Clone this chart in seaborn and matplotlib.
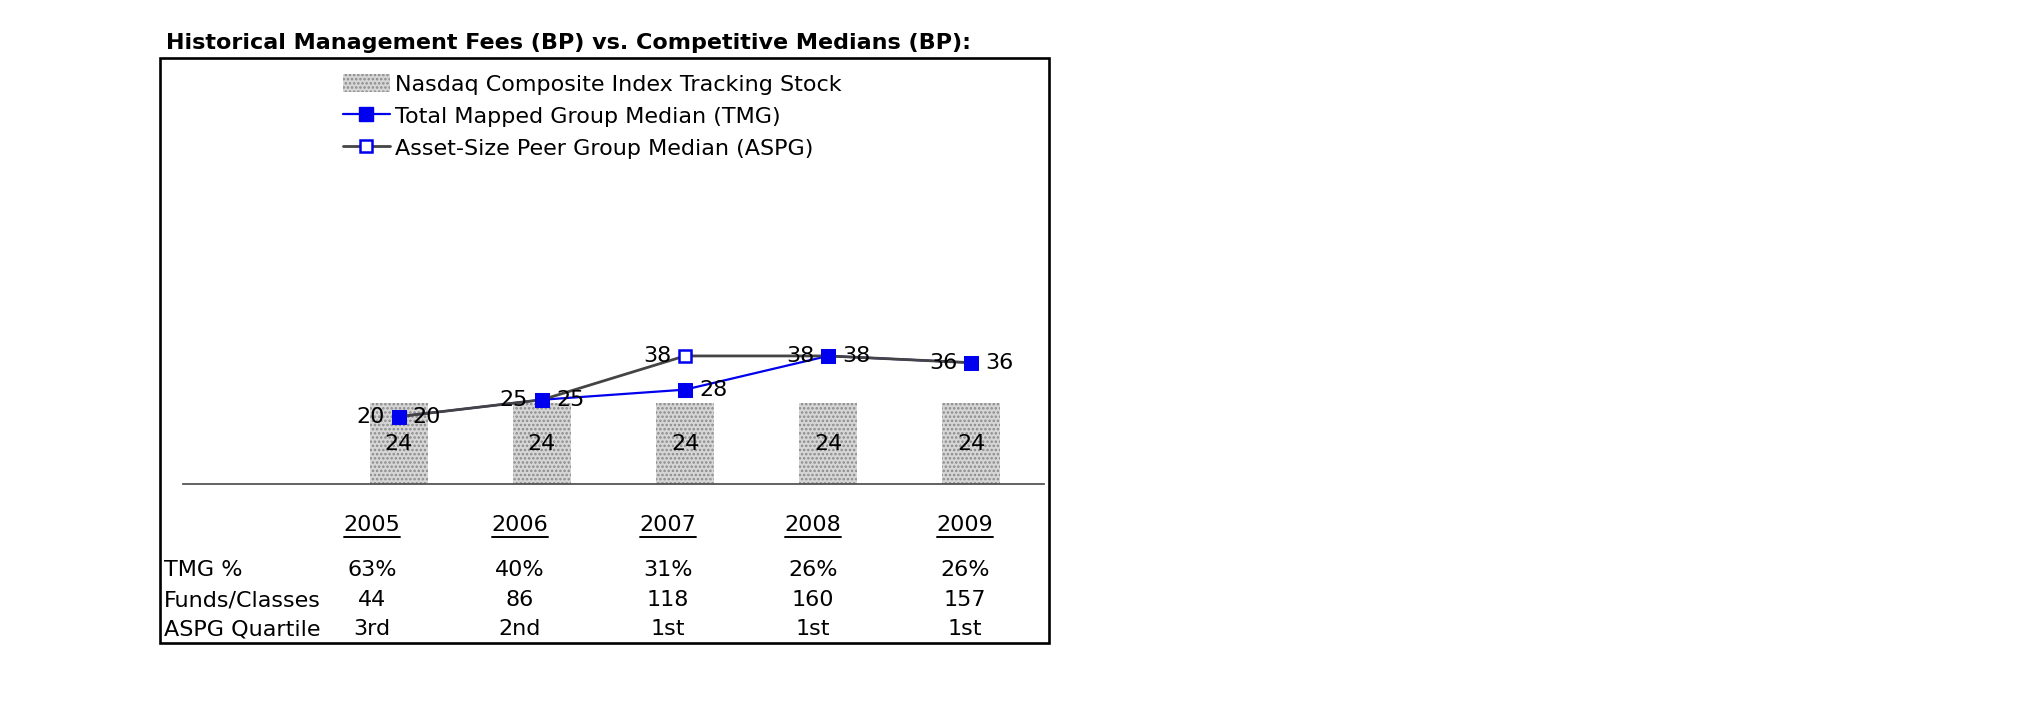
import numpy as np
import pandas as pd
import matplotlib
matplotlib.use("Agg")
import matplotlib.pyplot as plt
import seaborn as sns
from matplotlib.patches import Rectangle, Patch
from matplotlib.lines import Line2D

# ---------------- data ----------------
years = ["2005", "2006", "2007", "2008", "2009"]
nasdaq = [24, 24, 24, 24, 24]
tmg = [20, 25, 28, 38, 36]
aspg = [20, 25, 38, 38, 36]
tmg_pct = ["63%", "40%", "31%", "26%", "26%"]
funds = ["44", "86", "118", "160", "157"]
quartile = ["3rd", "2nd", "1st", "1st", "1st"]
row_labels = ["TMG %", "Funds/Classes", "ASPG Quartile"]

title = "Historical Management Fees (BP) vs. Competitive Medians (BP):"
name_bar = "Nasdaq Composite Index Tracking Stock"
name_tmg = "Total Mapped Group Median (TMG)"
name_aspg = "Asset-Size Peer Group Median (ASPG)"

# ---------------- style ----------------
sns.set_theme(style="white")
plt.rcParams["font.family"] = ["DejaVu Sans"]
plt.rcParams["text.color"] = "black"
plt.rcParams["hatch.linewidth"] = 1.2

W, H = 2025, 717
fig = plt.figure(figsize=(W / 100, H / 100), dpi=100)

def fx(px):
    return px / W

def fy(py):
    return 1 - py / H

FS = 16
BLUE = "#0000ee"
GRAY = "#444444"
BARFACE = "#d6d6d6"
BARDOT = "#8a8a8a"

# axes: baseline at y=484 px, x from 183 to 1044 px
ax_top, ax_bot = 75, 484
ax = fig.add_axes([fx(183), fy(ax_bot), fx(1044) - fx(183), (ax_bot - ax_top) / H])
ax.set_facecolor("none")

df = pd.DataFrame({"year": years, "nasdaq": nasdaq, "tmg": tmg, "aspg": aspg})
df["pos"] = np.arange(len(years))

sns.barplot(data=df, x="year", y="nasdaq", ax=ax, width=0.4, color=BARFACE,
            linewidth=0, saturation=1, zorder=1)
for p in ax.patches:
    p.set_hatch("....")
    p.set_edgecolor(BARDOT)
    p.set_linewidth(0)

sns.lineplot(data=df, x="pos", y="tmg", ax=ax, color=BLUE, lw=1.6,
             marker="s", markersize=10.5, markerfacecolor=BLUE,
             markeredgecolor=BLUE, zorder=2)
sns.lineplot(data=df, x="pos", y="aspg", ax=ax, color=GRAY, lw=2.0,
             marker="s", markersize=8.5, markerfacecolor="white",
             markeredgecolor=BLUE, markeredgewidth=1.8, zorder=3)
sns.scatterplot(data=df, x="pos", y="tmg", ax=ax, marker="s", s=110,
                color=BLUE, edgecolor=BLUE, linewidth=0, zorder=4)

# data labels
for i in range(len(years)):
    ax.annotate(f"{aspg[i]}", (i, aspg[i]), xytext=(-10, 0), textcoords="offset points",
                ha="right", va="center", fontsize=FS, color="black", zorder=5)
    ax.annotate(f"{tmg[i]}", (i, tmg[i]), xytext=(10, 0), textcoords="offset points",
                ha="left", va="center", fontsize=FS, color="black", zorder=5)
    ax.text(i, nasdaq[i] / 2, f"{nasdaq[i]}", ha="center", va="center",
            fontsize=FS, color="black", zorder=5)

scale = 3.37
ax.set_xlim(-1.51, 4.51)
ax.set_ylim(0, (ax_bot - ax_top) / scale)
ax.set_xlabel("")
ax.set_ylabel("")
ax.set_xticks([])
ax.set_yticks([])
for s in ["top", "left", "right"]:
    ax.spines[s].set_visible(False)
ax.spines["bottom"].set_color("#555555")
ax.spines["bottom"].set_linewidth(1.3)

# legend
h_bar = Patch(facecolor=BARFACE, edgecolor=BARDOT, hatch="....", linewidth=0)
h_tmg = Line2D([], [], color=BLUE, lw=1.6, marker="s", markersize=10.5,
               markerfacecolor=BLUE, markeredgecolor=BLUE)
h_aspg = Line2D([], [], color=GRAY, lw=2.0, marker="s", markersize=8.5,
                markerfacecolor="white", markeredgecolor=BLUE, markeredgewidth=1.8)
fig.legend([h_bar, h_tmg, h_aspg], [name_bar, name_tmg, name_aspg],
           loc="upper left", bbox_to_anchor=(fx(343), fy(74)),
           frameon=False, fontsize=FS, labelcolor="black", handlelength=2.1,
           handleheight=0.9, handletextpad=0.25, labelspacing=0.5,
           borderpad=0, borderaxespad=0)

# title
fig.text(fx(166), fy(43), title, fontsize=16, fontweight="bold", ha="left",
         va="center", color="black")

# outer frame
fig.add_artist(Rectangle((fx(160), fy(643)), fx(1049) - fx(160), (643 - 58) / H,
                         fill=False, lw=1.9, edgecolor="black",
                         transform=fig.transFigure))

# table below the chart
col_x = [372, 520, 668, 813, 965]
year_texts = []
for cx, yr in zip(col_x, years):
    t = fig.text(fx(cx), fy(525), yr, fontsize=FS, ha="center", va="center")
    year_texts.append(t)

rows_y = [570, 600, 629]
for ry, lab, vals in zip(rows_y, row_labels, [tmg_pct, funds, quartile]):
    fig.text(fx(164), fy(ry), lab, fontsize=FS, ha="left", va="center")
    for cx, v in zip(col_x, vals):
        fig.text(fx(cx), fy(ry), v, fontsize=FS, ha="center", va="center")

# underline the year headers
fig.canvas.draw()
r = fig.canvas.get_renderer()
for t in year_texts:
    bb = t.get_window_extent(r)
    fig.add_artist(Line2D([bb.x0 / W, bb.x1 / W], [fy(537), fy(537)], color="black",
                          lw=1.4, transform=fig.transFigure))

fig.savefig("out.png", dpi=100)
